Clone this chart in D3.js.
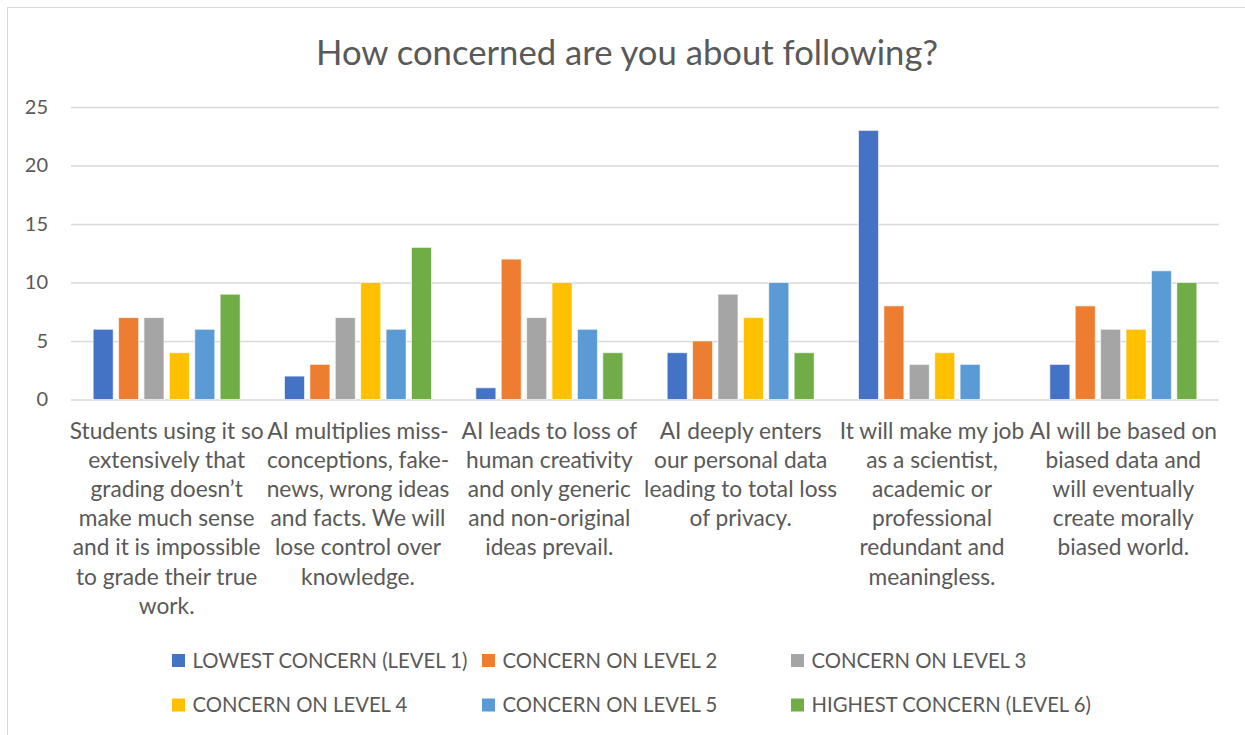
<!DOCTYPE html>
<html>
<head>
<meta charset="utf-8">
<script src="https://cdn.jsdelivr.net/npm/d3@7"></script>
<style>
  html, body { margin: 0; padding: 0; background: #fff; }
  svg { display: block; }
  text { font-family: Lato, "Open Sans", sans-serif; fill: #595959; }
</style>
</head>
<body>
<svg id="chart" width="1245" height="735"></svg>
<script>
// ---- data ----
const title = "How concerned are you about following?";
const categories = [
  ["Students using it so", "extensively that", "grading doesn\u2019t", "make much sense", "and it is impossible", "to grade their true", "work."],
  ["AI multiplies miss-", "conceptions, fake-", "news, wrong ideas", "and facts. We will", "lose control over", "knowledge."],
  ["AI leads to loss of", "human creativity", "and only generic", "and non-original", "ideas prevail."],
  ["AI deeply enters", "our personal data", "leading to total loss", "of privacy."],
  ["It will make my job", "as a scientist,", "academic or", "professional", "redundant and", "meaningless."],
  ["AI will be based on", "biased data and", "will eventually", "create morally", "biased world."]
];
const seriesNames = [
  "LOWEST CONCERN (LEVEL 1)", "CONCERN ON LEVEL 2", "CONCERN ON LEVEL 3",
  "CONCERN ON LEVEL 4", "CONCERN ON LEVEL 5", "HIGHEST CONCERN (LEVEL 6)"
];
const level1 = [6, 2, 1, 4, 23, 3];
const level2 = [7, 3, 12, 5, 8, 8];
const level3 = [7, 7, 7, 9, 3, 6];
const level4 = [4, 10, 10, 7, 4, 6];
const level5 = [6, 6, 6, 10, 3, 11];
const level6 = [9, 13, 4, 4, 0, 10];
const yTicks = [0, 5, 10, 15, 20, 25];
const colors = ["#4472C4", "#ED7D31", "#A5A5A5", "#FFC000", "#5B9BD5", "#70AD47"];

const seriesValues = [level1, level2, level3, level4, level5, level6];

// ---- layout ----
const svg = d3.select("#chart");
const plot = { left: 71, right: 1219, top: 107, bottom: 399.5 };

// chart border
svg.append("rect")
  .attr("x", 7.5).attr("y", 7.5)
  .attr("width", 1260).attr("height", 760)
  .attr("fill", "none").attr("stroke", "#d9d9d9").attr("stroke-width", 1);

function fitFont(sel, targetWidth, probeSize) {
  // sel: text selection measured at probeSize
  const w = sel.node().getComputedTextLength();
  return probeSize * targetWidth / w;
}

// title
const titleText = svg.append("text")
  .attr("x", (316 + 938) / 2).attr("y", 64.5)
  .attr("text-anchor", "middle")
  .style("font-size", "27px")
  .text(title);
titleText.style("font-size", fitFont(titleText, 622, 27) + "px");

const x0 = d3.scaleBand()
  .domain(d3.range(categories.length))
  .range([plot.left, plot.right])
  .paddingInner(0).paddingOuter(0);

const x1 = d3.scaleBand()
  .domain(d3.range(seriesNames.length))
  .range([0, x0.bandwidth()])
  .paddingInner(0.2126)
  .paddingOuter(0.873);

const y = d3.scaleLinear().domain([0, 25]).range([plot.bottom, plot.top]);

// gridlines + y-axis labels via d3 axis
const yAxis = d3.axisLeft(y)
  .tickValues(yTicks)
  .tickSize(-(plot.right - plot.left))
  .tickPadding(23)
  .tickFormat(d3.format("d"));

const gY = svg.append("g")
  .attr("transform", `translate(${plot.left},0)`)
  .call(yAxis);
gY.select(".domain").remove();
gY.selectAll(".tick line").attr("stroke", "#d9d9d9").attr("stroke-width", 1.3);
gY.selectAll(".tick text")
  .style("font-size", "20px")
  .style("font-family", "Lato, 'Open Sans', sans-serif")
  .attr("fill", "#595959");

// bars
const groups = svg.append("g").selectAll("g")
  .data(categories.map((c, i) => i))
  .join("g")
  .attr("transform", i => `translate(${x0(i)},0)`);

groups.selectAll("rect")
  .data(i => seriesValues.map((vals, s) => ({ s, v: vals[i] })))
  .join("rect")
  .attr("x", d => x1(d.s))
  .attr("width", x1.bandwidth())
  .attr("y", d => y(d.v))
  .attr("height", d => y(0) - y(d.v))
  .attr("fill", d => colors[d.s])
  .attr("stroke", d => d.v > 0 ? "rgba(255,255,255,0.6)" : "none")
  .attr("stroke-width", 1);

// category labels
const lineH = 29.2;
const firstBaseline = 438.5;
const labelG = svg.append("g");
const labels = labelG.selectAll("text")
  .data(categories)
  .join("text")
  .attr("text-anchor", "middle")
  .attr("x", (d, i) => x0(i) + x0.bandwidth() / 2)
  .attr("y", firstBaseline)
  .style("font-size", "20px");
labels.selectAll("tspan")
  .data(d => d)
  .join("tspan")
  .attr("x", function () { return d3.select(this.parentNode).attr("x"); })
  .attr("dy", (d, j) => j === 0 ? 0 : lineH)
  .text(d => d);
// fit font size using first line of first category
const probe = labelG.append("text").style("font-size", "20px").text(categories[0][0]);
const catSize = fitFont(probe, 194, 20);
probe.remove();
labels.style("font-size", catSize + "px");

// legend
const legendX = [172, 482, 791];
const legendY = [660.5, 705];
const leg = svg.append("g").selectAll("g")
  .data(seriesNames.map((n, i) => ({ n, i })))
  .join("g")
  .attr("transform", d => `translate(${legendX[d.i % 3]},${legendY[Math.floor(d.i / 3)]})`);
leg.append("rect")
  .attr("x", 0).attr("y", -6.5)
  .attr("width", 13).attr("height", 13)
  .attr("fill", d => colors[d.i]);
const legTexts = leg.append("text")
  .attr("x", 20.5).attr("y", 0)
  .attr("dy", "0.35em")
  .style("font-size", "18px")
  .text(d => d.n);
const legSize = fitFont(d3.select(legTexts.nodes()[0]), 275, 18);
legTexts.style("font-size", legSize + "px");
</script>
</body>
</html>
